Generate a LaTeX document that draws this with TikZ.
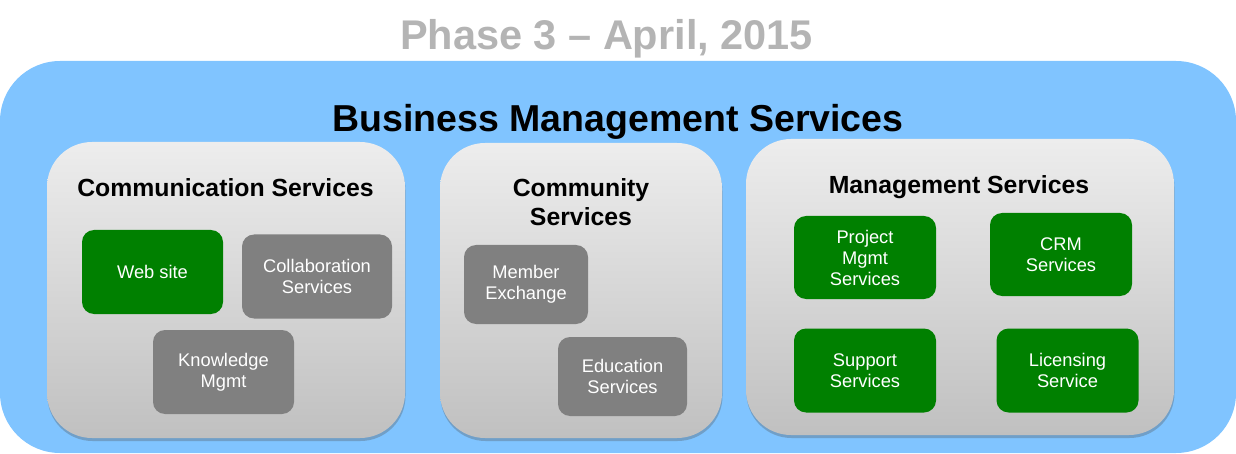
\documentclass[tikz,border=0pt]{standalone}
\usepackage{fontspec}
\setmainfont{Liberation Sans}
\usetikzlibrary{shadows}
\definecolor{bluebg}{RGB}{128,196,255}
\definecolor{titlegray}{RGB}{180,180,180}
\definecolor{boxgreen}{RGB}{0,128,0}
\definecolor{boxgray}{RGB}{128,128,128}
\definecolor{grptop}{RGB}{237,237,237}
\definecolor{grpbot}{RGB}{192,192,192}
\begin{document}
\begin{tikzpicture}[x=1pt,y=-1pt,
  outer/.style={rectangle, rounded corners=60pt, fill=bluebg, draw=none, inner sep=0pt},
  grp/.style={rectangle, rounded corners=45pt, top color=grptop, bottom color=grpbot, draw=none, inner sep=0pt,
    drop shadow={shadow xshift=0.5pt, shadow yshift=-3pt, opacity=0.3, fill=black!70}},
  item/.style={rectangle, rounded corners=12pt, text=white, font=\fontsize{18.3}{21}\selectfont, align=center, inner sep=0pt},
  greenitem/.style={item, fill=boxgreen},
  grayitem/.style={item, fill=boxgray},
  grptitle/.style={font=\bfseries\fontsize{24.8}{29}\selectfont, align=center, inner sep=0pt, anchor=base},
]
\useasboundingbox (0,0) rectangle (1236,454);
\node[text=titlegray, font=\bfseries\fontsize{41.5}{44}\selectfont, inner sep=0pt, anchor=base] (title) at (606.5,50) {Phase 3 – April, 2015};
\node[outer, minimum width=1236pt, minimum height=392pt] (bms) at (618,257) {};
\node[font=\bfseries\fontsize{37.5}{40}\selectfont, inner sep=0pt, anchor=base] (bmstitle) at (618,132) {Business Management Services};

\node[grp, minimum width=358pt, minimum height=296pt] (comm) at (226,290) {};
\node[grp, minimum width=282pt, minimum height=295pt] (commy) at (581,290.5) {};
\node[grp, minimum width=428pt, minimum height=296pt] (mgmt) at (960,287) {};

\node[grptitle] (commt) at (225.5,196.5) {Communication Services};
\node[grptitle] (commyt) at (581,226) {Community\\Services};
\node[grptitle] (mgmtt) at (959,194) {Management Services};

\node[greenitem, minimum width=141pt, minimum height=84pt] (web) at (152.5,272) {Web site};
\node[grayitem, minimum width=150pt, minimum height=84pt] (collab) at (317,276.5) {Collaboration\\Services};
\node[grayitem, minimum width=141pt, minimum height=84pt] (know) at (223.5,372) {Knowledge\\Mgmt};
\node[grayitem, minimum width=124pt, minimum height=79pt] (member) at (526,284.5) {Member\\Exchange};
\node[grayitem, minimum width=129pt, minimum height=79pt] (edu) at (622.5,376.5) {Education\\Services};
\node[greenitem, minimum width=142pt, minimum height=83pt] (proj) at (865,257.5) {Project\\Mgmt\\Services};
\node[greenitem, minimum width=142pt, minimum height=83pt] (crm) at (1061,254.5) {CRM\\Services};
\node[greenitem, minimum width=142pt, minimum height=84pt] (support) at (865,370.5) {Support\\Services};
\node[greenitem, minimum width=142pt, minimum height=84pt] (lic) at (1067.5,370.5) {Licensing\\Service};
\end{tikzpicture}
\end{document}
